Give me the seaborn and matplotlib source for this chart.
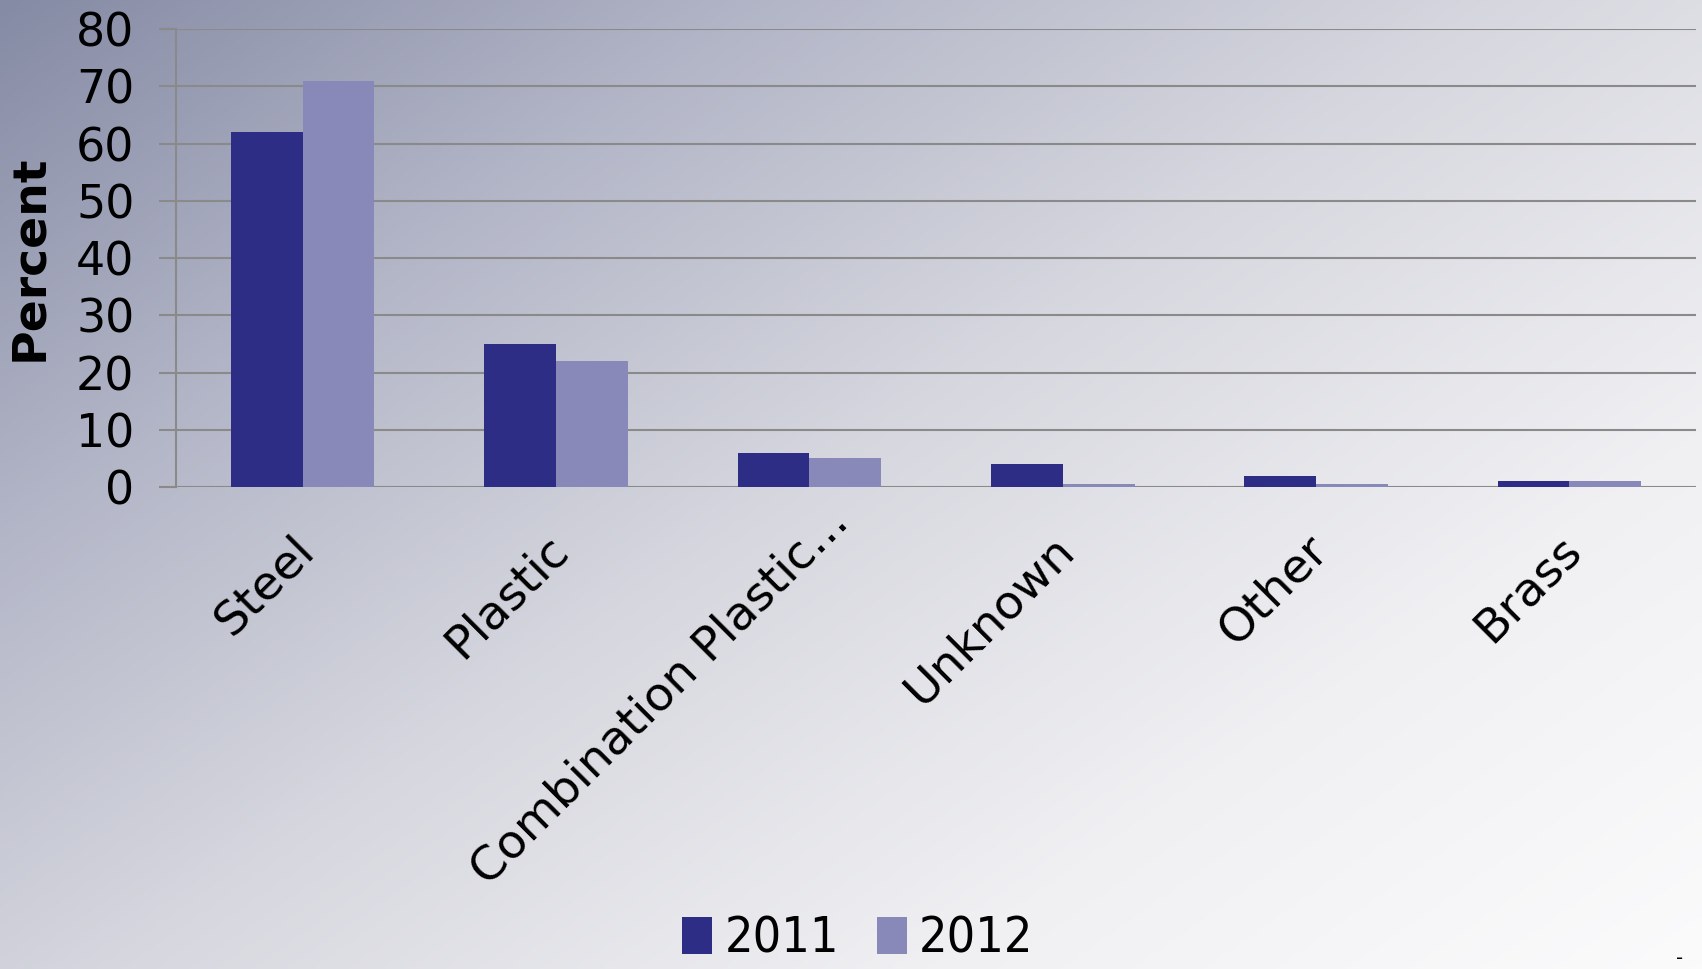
import numpy as np
import pandas as pd
import matplotlib
matplotlib.use("Agg")
import matplotlib.pyplot as plt
import matplotlib.transforms as mtransforms
from matplotlib.colors import LinearSegmentedColormap
from matplotlib import font_manager
import seaborn as sns

categories = ["Steel", "Plastic", "Combination Plastic...", "Unknown", "Other", "Brass"]
years = ["2011", "2012"]
values_2011 = [62, 25, 6, 4, 2, 1]
values_2012 = [71, 22, 5, 0.5, 0.5, 1]
yticks = [0, 10, 20, 30, 40, 50, 60, 70, 80]

df = pd.DataFrame({
    "Material": categories * 2,
    "Year": [years[0]] * len(categories) + [years[1]] * len(categories),
    "Percent": values_2011 + values_2012,
})

sns.set_theme(style="white")
plt.rcParams["font.family"] = ["DejaVu Sans"]
plt.rcParams["text.color"] = "black"
plt.rcParams["axes.labelcolor"] = "black"
plt.rcParams["xtick.color"] = "black"
plt.rcParams["ytick.color"] = "black"

# narrow font for the legend if one is around
names = {f.name for f in font_manager.fontManager.ttflist}
narrow = [n for n in ["Liberation Sans Narrow", "DejaVu Sans Condensed"] if n in names]

fig = plt.figure(figsize=(17.02, 9.69), dpi=100)

# diagonal gradient background
bg = fig.add_axes([0, 0, 1, 1], zorder=-10)
gx, gy = np.meshgrid(np.linspace(0, 1, 400), np.linspace(0, 1, 400))
grad = (gx * 0.55 + gy * 0.45)
cmap = LinearSegmentedColormap.from_list(
    "bgc", ["#868ba5", "#b3b6c7", "#d8d9e0", "#f0f0f3", "#fbfbfc"])
bg.imshow(grad, cmap=cmap, aspect="auto", extent=[0, 1, 1, 0])
bg.axis("off")

ax = fig.add_axes([0.1034, 0.4974, 0.8931, 0.4726])
ax.patch.set_alpha(0)
sns.barplot(data=df, x="Material", y="Percent", hue="Year",
            palette=["#2e2d86", "#8989b9"], width=0.567, gap=0,
            saturation=1, linewidth=0, ax=ax, legend=True, zorder=3)

ax.set_xlim(-0.5, 5.5)
ax.set_ylim(0, 80)
ax.set_yticks(yticks)
ax.set_yticklabels([str(t) for t in yticks], fontsize=33)
ax.grid(axis="y", color="#8a8a8a", linewidth=1.5, zorder=0)
ax.set_axisbelow(True)
for s in ["top", "right", "bottom"]:
    ax.spines[s].set_visible(False)
ax.spines["left"].set_color("#8a8a8a")
ax.spines["left"].set_linewidth(1.5)
ax.tick_params(axis="y", length=12, width=1.5, color="#8a8a8a", pad=18,
               left=True, labelcolor="black")
ax.tick_params(axis="x", length=0, pad=29, labelcolor="black")
ax.set_xticks(range(len(categories)))
ax.set_xticklabels(categories, rotation=45, ha="right",
                   rotation_mode="anchor", fontsize=34)
for lab in ax.get_xticklabels():
    dx, dy = -8, 0
    if lab.get_text().startswith("Combination"):
        dx, dy = 12, 20
    shift = mtransforms.ScaledTranslation(dx / 72, dy / 72, fig.dpi_scale_trans)
    lab.set_transform(lab.get_transform() + shift)
ax.set_xlabel("")
ax.set_ylabel("Percent", fontsize=34, fontweight="bold")
ax.yaxis.set_label_coords(-0.0816, 0.5)

handles, labels = ax.get_legend_handles_labels()
ax.get_legend().remove()
fig.legend(handles, labels, loc="lower center", bbox_to_anchor=(0.504, -0.04),
           ncol=2, frameon=False, handlelength=0.6, handleheight=0.75,
           handletextpad=0.25, columnspacing=0.75,
           prop={"family": narrow + ["DejaVu Sans"], "size": 36,
                 "stretch": "condensed"})

fig.text(0.985, 0.005, "-", fontsize=14)

fig.savefig("out.png", dpi=100)
